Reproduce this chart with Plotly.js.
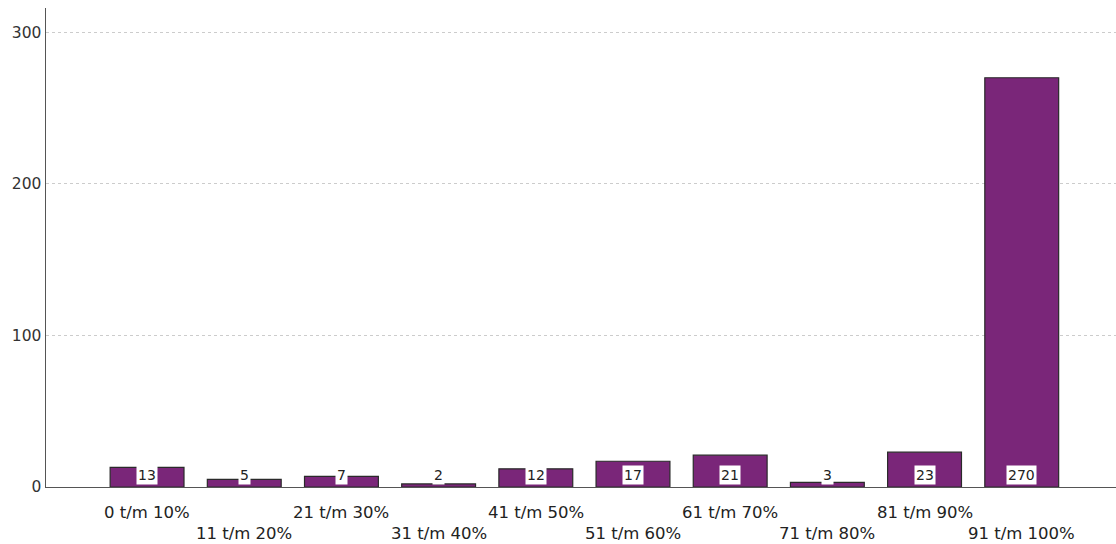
<!DOCTYPE html>
<html>
<head>
<meta charset="utf-8">
<script src="https://cdn.plot.ly/plotly-3.0.1.min.js"></script>
<style>html,body{margin:0;padding:0;background:#fff;}#chart{width:1116px;height:544px;}</style>
</head>
<body>
<div id="chart"></div>
<script>
var categories = ["0 t/m 10%", "11 t/m 20%", "21 t/m 30%", "31 t/m 40%", "41 t/m 50%", "51 t/m 60%", "61 t/m 70%", "71 t/m 80%", "81 t/m 90%", "91 t/m 100%"];
var counts = [13, 5, 7, 2, 12, 17, 21, 3, 23, 270];
var yTicks = [0, 100, 200, 300];

var FONT = "DejaVu Sans, sans-serif";
var annotations = [];
categories.forEach(function (c, i) {
  annotations.push({
    x: c, xref: "x", y: 0, yref: "paper", yanchor: "top", xanchor: "center",
    yshift: i % 2 === 0 ? -14 : -35, showarrow: false, text: c,
    font: {family: FONT, size: 16.5, color: "#222"}
  });
  annotations.push({
    x: c, xref: "x", y: 0, yref: "y", yanchor: "bottom", xanchor: "center",
    yshift: 2, showarrow: false, text: String(counts[i]), bgcolor: "#ffffff",
    borderpad: 1, font: {family: FONT, size: 14, color: "#222"}
  });
});

var trace = {
  type: "bar", x: categories, y: counts, width: 0.76,
  marker: {color: "#7a2679", line: {color: "#2a2a2a", width: 1.2}},
  hoverinfo: "none"
};

var layout = {
  width: 1116, height: 544,
  margin: {l: 46, r: 0, t: 8, b: 57},
  paper_bgcolor: "#fff", plot_bgcolor: "#fff",
  showlegend: false,
  xaxis: {
    type: "category", range: [-1.04, 9.97], showticklabels: false, ticks: "",
    showgrid: false, zeroline: false, showline: true, linecolor: "#555", linewidth: 1.2,
    fixedrange: true
  },
  yaxis: {
    range: [0, 316], tickvals: yTicks, ticktext: yTicks.map(String), ticks: "",
    showgrid: true, gridcolor: "#cccccc", griddash: "3px,3px", gridwidth: 1,
    zeroline: false, showline: true, linecolor: "#555", linewidth: 1.5,
    tickfont: {family: FONT, size: 15.5, color: "#333"}, ticklabelstandoff: 0,
    fixedrange: true
  },
  annotations: annotations
};

Plotly.newPlot("chart", [trace], layout, {displayModeBar: false, staticPlot: true});
</script>
</body>
</html>
